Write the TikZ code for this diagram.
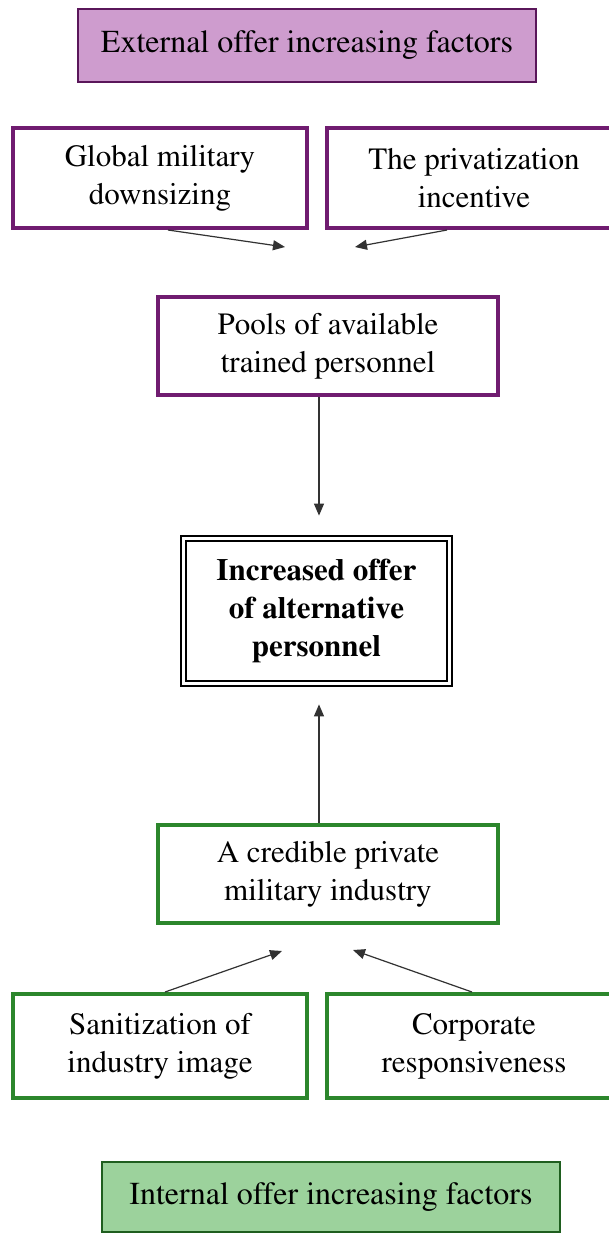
\documentclass[tikz,border=0pt]{standalone}
\usepackage[T1]{fontenc}
\usepackage{mathptmx}
\usetikzlibrary{positioning, calc, arrows.meta}
\definecolor{extline}{RGB}{112,28,112}
\definecolor{extfill}{RGB}{206,156,206}
\definecolor{intline}{RGB}{44,134,44}
\definecolor{intfill}{RGB}{156,210,156}
\definecolor{arrowgray}{RGB}{50,50,50}

\begin{document}
\begin{tikzpicture}[x=0.5pt, y=-0.5pt, >={Triangle[width=5pt,length=6pt]},
  factor/.style={draw, line width=2pt, fill=white, align=center, inner sep=0pt,
                 font=\fontsize{15.5}{19}\selectfont},
  extbox/.style={factor, draw=extline, minimum width=147pt, minimum height=50pt},
  intbox/.style={factor, draw=intline, minimum width=147pt, minimum height=52pt},
  header/.style={draw, line width=0.6pt, align=center, inner sep=0pt,
                 font=\fontsize{16}{19}\selectfont},
  link/.style={->, draw=arrowgray, line width=0.6pt},
  ]
  \fill[white] (0,0) rectangle (609,1233);
  \useasboundingbox (0,0) rectangle (609,1233);

  % external side
  \node[header, draw=extline!80!black, fill=extfill, minimum width=229pt, minimum height=36.5pt]
     (external) at (307,45.5) {External offer increasing factors};
  \node[extbox] (downsizing) at (160,178) {Global military\\downsizing};
  \node[extbox] (privatization) at (474,178) {The privatization\\incentive};
  \node[extbox, minimum width=170pt, minimum height=49pt] (pools) at (328,346)
     {Pools of available\\trained personnel};

  % result
  \node[draw, line width=1pt, double=white, double distance=1.6pt, fill=white,
        minimum width=133pt, minimum height=72.4pt, align=center, inner sep=0pt,
        font=\bfseries\fontsize{15.5}{19}\selectfont]
     (offer) at (316.5,611) {Increased offer\\of alternative\\personnel};

  % internal side
  \node[intbox, minimum width=170pt, minimum height=49pt] (credible) at (328,874)
     {A credible private\\military industry};
  \node[intbox] (sanitization) at (160,1046) {Sanitization of\\industry image};
  \node[intbox] (corporate) at (474,1046) {Corporate\\responsiveness};
  \node[header, draw=intline!70!black, fill=intfill, minimum width=229pt, minimum height=35pt]
     (internal) at (331,1197) {Internal offer increasing factors};

  \coordinate (toptipL) at (285,247);
  \coordinate (toptipR) at (355,247);
  \coordinate (bottiptL) at (282,951);
  \coordinate (bottiptR) at (353,950);

  \path
    ([xshift=4pt]downsizing.south) edge[link] (toptipL)
    ([xshift=-13.5pt]privatization.south) edge[link] (toptipR)
    ([xshift=-4.5pt]pools.south) edge[link, shorten >=11pt] ([xshift=1.25pt]offer.north)
    ([xshift=-4.5pt]credible.north) edge[link, shorten >=10pt] ([xshift=1.25pt]offer.south)
    ([xshift=2.5pt]sanitization.north) edge[link] (bottiptL)
    ([xshift=-1pt]corporate.north) edge[link] (bottiptR);
\end{tikzpicture}
\end{document}
